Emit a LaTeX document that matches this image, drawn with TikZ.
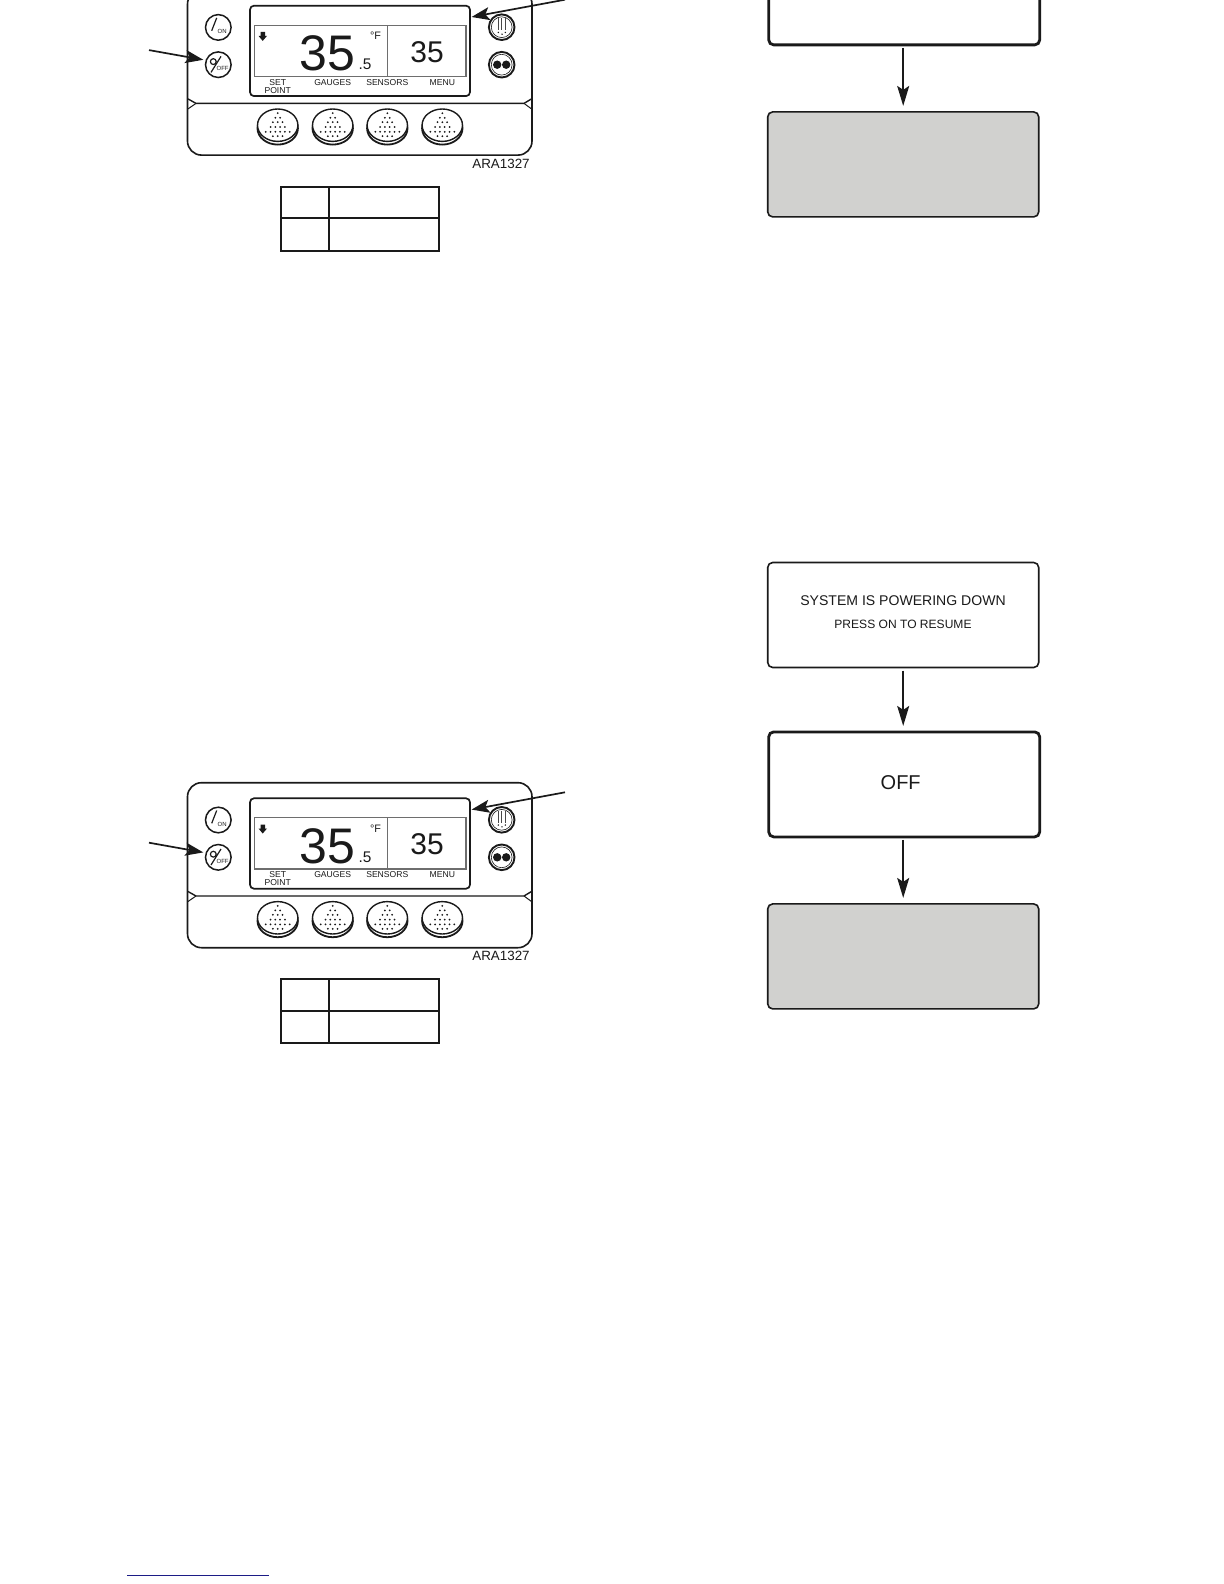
\documentclass[tikz,border=0pt]{standalone}
\usepackage{fontspec}
\setmainfont{Liberation Sans}
\usetikzlibrary{arrows.meta,shapes.geometric}
\definecolor{ink}{HTML}{1A1A1A}
\definecolor{lcdgray}{HTML}{6E6E6E}
\definecolor{boxgray}{HTML}{D1D1CF}
\definecolor{footblue}{HTML}{1C1C86}
\tikzset{
  flowbox/.style={draw=ink,rectangle,rounded corners=2.5pt,line width=.8pt,minimum width=135.5pt,minimum height=52.5pt,inner sep=0pt,outer sep=0pt,fill=white},
  thickbox/.style={flowbox,line width=1.4pt},
  graybox/.style={flowbox,fill=boxgray},
  flowarrow/.style={draw=ink,line width=.8pt,-{Stealth[length=10pt,width=6pt,inset=2pt]},shorten >=3pt,shorten <=1.5pt},
  callout/.style={draw=ink,line width=.85pt,-{Stealth[length=9pt,width=6.5pt,inset=2pt]}},
  panelbox/.style={draw=ink,rectangle,rounded corners=7pt,line width=.8pt,minimum width=172.25pt,minimum height=82.5pt,inner sep=0pt,outer sep=0pt},
  dispbox/.style={draw=ink,rectangle,rounded corners=2pt,line width=.85pt,minimum width=110pt,minimum height=45.2pt,inner sep=0pt,outer sep=0pt},
  lcd/.style={draw=lcdgray,rectangle,line width=.55pt,minimum height=25.6pt,inner sep=0pt,outer sep=0pt},
  roundbtn/.style={draw=ink,circle,line width=.75pt,minimum size=12.8pt,inner sep=0pt,outer sep=0pt},
  softkey/.style={draw=ink,ellipse,line width=.7pt,minimum width=20.2pt,minimum height=16.2pt,inner sep=0pt,outer sep=0pt,fill=white},
  bigdigits/.style={inner sep=0pt,font=\fontsize{25}{25}\selectfont,text=ink},
  smalldigits/.style={inner sep=0pt,font=\fontsize{15}{15}\selectfont,text=ink},
  unittext/.style={inner sep=0pt,font=\fontsize{7.7}{7.7}\selectfont,text=ink},
  degtext/.style={inner sep=0pt,font=\fontsize{5.4}{5.4}\selectfont,text=ink},
  keylabel/.style={inner sep=0pt,font=\fontsize{4.3}{4.3}\selectfont,text=ink},
  tinylabel/.style={inner sep=0pt,font=\fontsize{3}{3}\selectfont,text=ink},
  codelabel/.style={inner sep=0pt,font=\fontsize{6.7}{6.7}\selectfont,text=ink},
  tablecell/.style={draw=ink,rectangle,line width=.85pt,inner sep=0pt,outer sep=0pt},
}
\newcommand{\softkeyat}[3]{%
  \node[softkey,line width=.9pt] (#1b) at (#2,921) {};
  \node[softkey] (#1) at (#2,917.8) {};
  \foreach \dy/\xlist in {-12/{0},-7.4/{-2.4,2.4},-3/{-4.8,0,4.8},1.8/{-7.2,-2.4,2.4,7.2},6.6/{-12,-7.2,-2.4,2.4,7.2,12},11/{-4.8,0,4.8}}{
    \foreach \dx in \xlist {\fill[ink] (#2+\dx,917.8+\dy) circle[radius=1];}
  }
}
\newcommand{\panelset}[2]{%
\begin{scope}[shift={(0,#2)},name prefix=#1-]
  \node[panelbox] (panel) at (359.75,865.2) {};
  \coordinate (sepL) at (188,891.5);
  \coordinate (sepR) at (531.5,891.5);
  \draw[ink,line width=.7pt] (sepL) -- (196,896) -- (524,896) -- (sepR);
  \draw[ink,line width=.5pt] (188,901.5) -- (196,896) (531.5,901.5) -- (524,896);
  \node[dispbox] (disp) at (360,843.5) {};
  \node[lcd,minimum width=66.5pt] (lcdL) at (320.8,843.35) {};
  \node[lcd,minimum width=39.35pt] (lcdR) at (426.65,843.35) {};
  \fill[ink] (260.5,824.5) -- (265,824.5) -- (265,828.5) -- (267,828.5) -- (262.7,833.5) -- (258.5,828.5) -- (260.5,828.5) -- cycle;
  \node[bigdigits] (big) at (327.3,846) {35};
  \node[smalldigits] (small) at (427,844.5) {35};
  \node[unittext] (frac) at (365,857.2) {.5};
  \node[degtext] (unit) at (375.5,828.8) {\textdegree F};
  \node[keylabel] (k1a) at (277.7,874.8) {SET};
  \node[keylabel] (k1b) at (277.7,882.8) {POINT};
  \node[keylabel] (k2) at (332.7,874.8) {GAUGES};
  \node[keylabel] (k3) at (387.3,874.8) {SENSORS};
  \node[keylabel] (k4) at (442.3,874.8) {MENU};
  \node[roundbtn] (on) at (218.3,820) {};
  \draw[ink,line width=.6pt] (216.7,810.5) -- (211.7,823.3);
  \node[tinylabel] (ontxt) at (222.2,824) {ON};
  \node[roundbtn] (off) at (218.3,857.3) {};
  \draw[ink,line width=.6pt] (221,849) -- (211,865);
  \draw[ink,line width=.6pt] (213.3,854.2) circle[radius=2.9];
  \node[tinylabel] (offtxt) at (222.6,861) {OFF};
  \node[roundbtn,line width=.95pt] (b1) at (501.7,819.8) {};
  \node[draw=ink,circle,line width=.3pt,minimum size=10.4pt,inner sep=0pt] (b1i) at (501.7,819.8) {};
  \draw[ink!80,line width=.3pt] (498.3,811) -- (498.3,823) (501.7,810.5) -- (501.7,823) (505,811) -- (505,823);
  \fill[ink] (498.3,825) circle[radius=.8] (502,826.8) circle[radius=.8] (505.3,825) circle[radius=.8];
  \node[roundbtn,line width=.95pt] (b2) at (501.7,857.3) {};
  \node[draw=ink,circle,line width=.3pt,minimum size=10.4pt,inner sep=0pt] (b2i) at (501.7,857.3) {};
  \node[fill=ink,circle,minimum size=4.2pt,inner sep=0pt] (b2l) at (497.2,857.3) {};
  \node[fill=ink,circle,minimum size=4.2pt,inner sep=0pt] (b2r) at (506.2,857.3) {};
  \softkeyat{s1}{277.7}{}
  \softkeyat{s2}{332.7}{}
  \softkeyat{s3}{387.3}{}
  \softkeyat{s4}{442.3}{}
  \node[codelabel] (code) at (501,956) {ARA1327};
  \coordinate (la) at (149,842.7);
  \coordinate (ra) at (565,792.3);
  \draw[callout,shorten >=1.5pt] (la) -- (off.160);
  \draw[callout,shorten >=.8pt] (ra) -- (disp.17.3);
  \node[tablecell,minimum width=24pt,minimum height=15.7pt] (c11) at (305,995) {};
  \node[tablecell,minimum width=55.15pt,minimum height=15.7pt] (c12) at (384.15,995) {};
  \node[tablecell,minimum width=24pt,minimum height=16.3pt] (c21) at (305,1027) {};
  \node[tablecell,minimum width=55.15pt,minimum height=16.3pt] (c22) at (384.15,1027) {};
\end{scope}}
\begin{document}
\begin{tikzpicture}[x=.5pt,y=-.5pt]
\clip (0,0) rectangle (1224,1584);
\fill[white] (0,0) rectangle (1224,1584);
\panelset{lower}{0}
\panelset{upper}{-792.6}
% lower flow
\node[flowbox] (sys) at (903.2,615) {};
\node[inner sep=0pt,font=\fontsize{7.03}{7.03}\selectfont,text=ink] (sysa) at (903,600.8) {SYSTEM IS POWERING DOWN};
\node[inner sep=0pt,font=\fontsize{6.03}{6.03}\selectfont,text=ink] (sysb) at (903,624.2) {PRESS ON TO RESUME};
\node[thickbox] (offbox) at (904.2,784.4) {};
\node[inner sep=0pt,font=\fontsize{10}{10}\selectfont,text=ink] (offtext) at (900.7,782.5) {OFF};
\node[graybox] (graylow) at (903.2,956.4) {};
\draw[flowarrow] (sys.south) -- (sys.south |- offbox.north);
\draw[flowarrow] (offbox.south -| sys.south) -- (sys.south |- graylow.north);
% upper flow
\node[thickbox] (topbox) at (904.2,-7.6) {};
\node[graybox] (grayup) at (903.2,164.4) {};
\draw[flowarrow] (topbox.south -| grayup.north) -- (grayup.north);
% footer rule
\coordinate (footL) at (127.3,1575.3);
\coordinate (footR) at (269,1575.3);
\draw[footblue,line width=.7pt] (footL) -- (footR);
\end{tikzpicture}
\end{document}
